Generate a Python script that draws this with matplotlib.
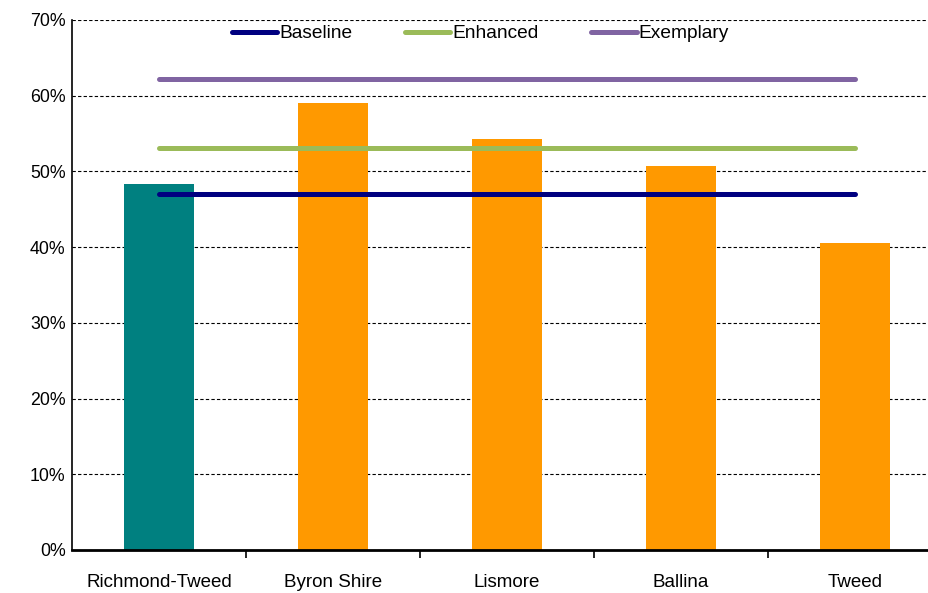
import matplotlib
matplotlib.use("Agg")
import matplotlib.pyplot as plt
import numpy as np

plt.rcParams['font.family'] = ['Liberation Sans', 'DejaVu Sans']

regions = ["Richmond-Tweed", "Byron Shire", "Lismore", "Ballina", "Tweed"]
shares = [48.3, 59.0, 54.3, 50.7, 40.6]
bar_colors = ["#008080", "#FF9900", "#FF9900", "#FF9900", "#FF9900"]

benchmark_names = ["Baseline", "Enhanced", "Exemplary"]
benchmark_values = [47.0, 53.1, 62.2]
benchmark_colors = ["#000080", "#9BBB59", "#8064A2"]

W, H = 929, 593
fig = plt.figure(figsize=(W / 100, H / 100), dpi=100)
ax = fig.add_axes([72 / W, 1 - 550 / H, 870 / W, 530 / H])

x = np.arange(len(regions))
ax.bar(x, shares, width=0.4, color=bar_colors, zorder=2)

for name, val, col in zip(benchmark_names, benchmark_values, benchmark_colors):
    ax.plot([x[0], x[-1]], [val, val], color=col, lw=3.6,
            solid_capstyle="round", label=name, zorder=3)

ax.set_xlim(-0.5, len(regions) - 0.5)
ax.set_ylim(0, 70)
ax.set_yticks(np.arange(0, 71, 10))
ax.set_yticklabels([f"{v}%" for v in range(0, 71, 10)], fontsize=12.8)
ax.yaxis.grid(True, linestyle=(0, (3, 2)), color="black", lw=0.8, zorder=0)
ax.tick_params(axis="y", length=0, pad=4.5)

ax.set_xticks(x)
ax.set_xticklabels(regions, fontsize=13.5)
ax.tick_params(axis="x", length=0, pad=17.5)
ax.set_xticks(np.arange(0.5, len(regions) - 0.5, 1), minor=True)
ax.tick_params(axis="x", which="minor", length=6, width=1.2, direction="out")

for side in ["top", "right"]:
    ax.spines[side].set_visible(False)
ax.spines["left"].set_linewidth(1.2)
ax.spines["bottom"].set_linewidth(2)

ax.legend(loc="center left", bbox_to_anchor=(232 / W, 1 - 33.5 / H),
          bbox_transform=fig.transFigure, ncol=3, frameon=False,
          fontsize=13.8, handlelength=2.35, handletextpad=0.12,
          columnspacing=2.75, borderpad=0, borderaxespad=0)

fig.savefig("out.png", dpi=100)
